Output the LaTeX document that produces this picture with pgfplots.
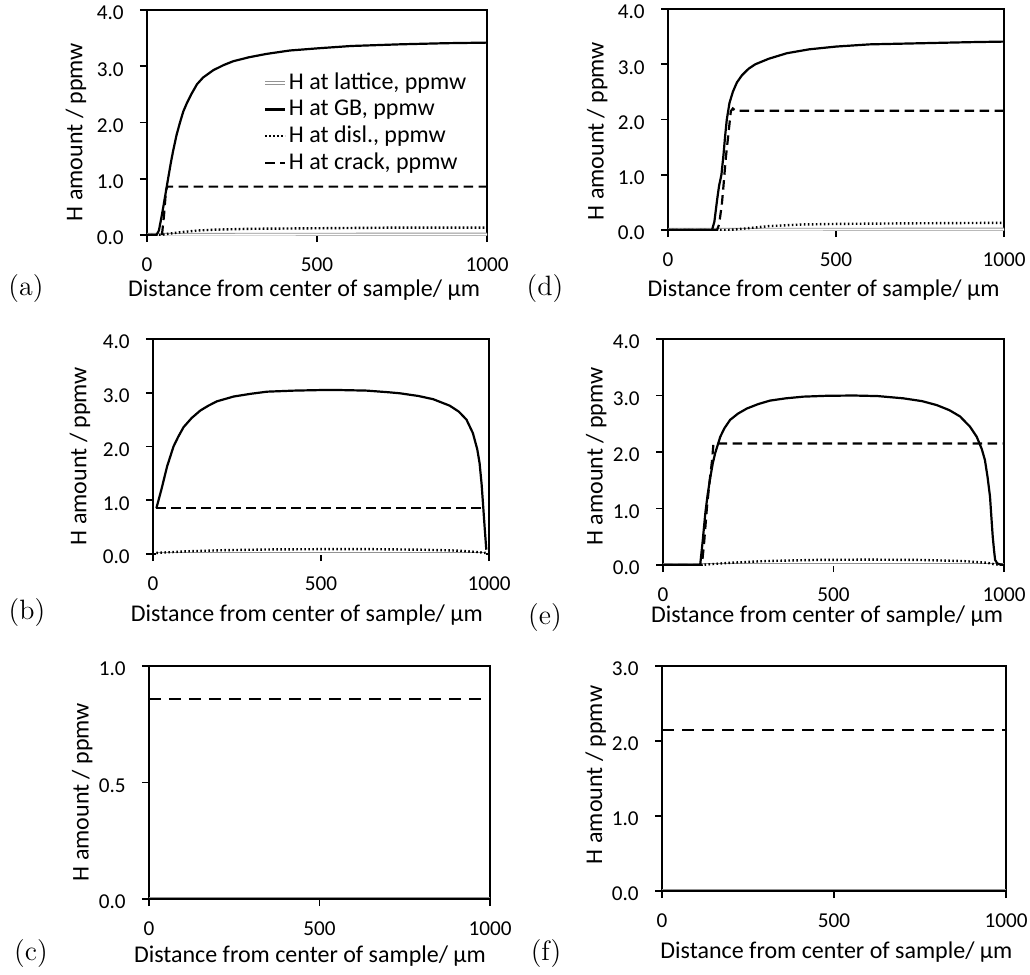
\documentclass[border=0pt]{standalone}
\usepackage{fontspec}
\setsansfont{Carlito}
\usepackage{pgfplots}
\pgfplotsset{compat=1.18}

\pgfplotsset{
  panel/.style={
    scale only axis, anchor=south west,
    xmin=0, xmax=1000, xtick={0,500,1000},
    ymin=0, scaled ticks=false,
    axis line style={line width=0.8pt},
    every tick/.style={black, line width=0.8pt},
    tick align=outside, tickpos=left,
    major tick length=3.5pt,
    /pgf/number format/assume math mode=true,
    tick label style={font=\sffamily\fontsize{10.6}{12}\selectfont},
    yticklabel style={/pgf/number format/fixed, /pgf/number format/fixed zerofill, /pgf/number format/precision=1, xshift=-4.6pt, yshift=-1.5pt},
    xticklabel style={/pgf/number format/1000 sep={}, yshift=-4.3pt},
    xlabel={Distance from center of sample/ μm},
    ylabel={H amount / ppmw},
    every axis x label/.style={anchor=center, font=\sffamily\fontsize{12}{14}\selectfont},
    every axis y label/.style={anchor=center, rotate=90, font=\sffamily\fontsize{12}{14}\selectfont},
  },
  gb/.style={black, line width=1.1pt},
  crack/.style={black, line width=1.1pt, dash pattern=on 4.75pt off 2.75pt},
  disl/.style={black, line width=1.2pt, dash pattern=on 0.8pt off 1.2pt},
  latt/.style={gray!85, line width=0.45pt, double=white, double distance=0.9pt},
}

\begin{document}
\begin{tikzpicture}
\useasboundingbox (0pt,0pt) rectangle (515pt,-487.5pt);

% ---------------- (a) ----------------
\begin{axis}[panel, at={(73.5pt,-117.5pt)}, width=170pt, height=112.5pt,
  ymax=4, ytick={0,1,2,3,4},
  xlabel style={at={(axis description cs:0.462,-0.244)}},
  ylabel style={at={(axis description cs:-0.209,0.458)}},
  legend style={draw=none, fill=none, at={(0.341,0.725)}, anchor=north west,
    inner sep=0pt, row sep=2.6pt, font=\sffamily\fontsize{12}{14}\selectfont,
    nodes={inner xsep=1pt, inner ysep=0.5pt}},
  legend cell align=left,
  legend image code/.code={\draw[#1] (0pt,0pt) -- (10pt,0pt);},
]
\addplot[latt] coordinates {(0,0.005) (1000,0.01)};
\addlegendentry{H at lattice, ppmw}
\addplot[gb] coordinates {(0,0) (28,0) (35,0.08) (42,0.3) (48,0.5) (55,0.75) (62,1.0) (70,1.28) (77,1.5) (87,1.78) (97,2.0) (107,2.2) (117,2.34) (130,2.5) (147,2.68) (165,2.8) (195,2.93) (225,3.02) (254,3.09) (300,3.16) (352,3.22) (420,3.28) (505,3.32) (600,3.36) (745,3.39) (880,3.41) (1000,3.42)};
\addlegendentry{H at GB, ppmw}
\addplot[disl] coordinates {(0,0) (40,0) (60,0.02) (100,0.05) (150,0.08) (200,0.095) (300,0.11) (500,0.12) (700,0.13) (1000,0.13)};
\addlegendentry{H at disl., ppmw}
\addplot[crack] coordinates {(0,0) (44,0) (50,0.35) (56,0.8) (60,0.86) (1000,0.86)};
\addlegendentry{H at crack, ppmw}
\end{axis}

% ---------------- (b) ----------------
\begin{axis}[panel, at={(76.5pt,-277pt)}, width=168pt, height=107.5pt,
  ymax=4, ytick={0,1,2,3,4},
  xlabel style={at={(axis description cs:0.458,-0.284)}},
  ylabel style={at={(axis description cs:-0.217,0.456)}},
]
\addplot[latt] coordinates {(10,0.005) (990,0.005)};
\addplot[gb] coordinates {(10,0.85) (25,1.2) (42,1.63) (61,2.0) (75,2.18) (91,2.36) (115,2.53) (141,2.67) (165,2.76) (190,2.84) (240,2.93) (290,2.98) (339,3.02) (420,3.04) (497,3.05) (560,3.05) (636,3.04) (700,3.01) (735,2.99) (790,2.94) (834,2.88) (883,2.76) (910,2.65) (933,2.5) (952,2.25) (965,1.95) (972,1.69) (978,1.3) (982,0.95) (987,0.5) (992,0.08)};
\addplot[disl] coordinates {(10,0.02) (100,0.05) (200,0.07) (350,0.085) (500,0.09) (650,0.09) (800,0.08) (900,0.065) (960,0.04) (990,0.02)};
\addplot[crack] coordinates {(10,0.86) (980,0.86)};
\end{axis}

% ---------------- (c) ----------------
\begin{axis}[panel, at={(74.5pt,-449.5pt)}, width=170.5pt, height=116.5pt,
  ymax=1, ytick={0,0.5,1},
  xlabel style={at={(axis description cs:0.472,-0.245)}},
  ylabel style={at={(axis description cs:-0.196,0.459)}},
]
\addplot[latt] coordinates {(0,0.002) (1000,0.002)};
\addplot[gb] coordinates {(0,0) (1000,0)};
\addplot[black, line width=1.1pt, dash pattern=on 6pt off 4pt] coordinates {(0,0.86) (1000,0.86)};
\end{axis}

% ---------------- (d) ----------------
\begin{axis}[panel, at={(334pt,-115pt)}, width=168pt, height=110.5pt,
  ymax=4, ytick={0,1,2,3,4},
  xlabel style={at={(axis description cs:0.463,-0.271)}},
  ylabel style={at={(axis description cs:-0.211,0.448)}},
]
\addplot[latt] coordinates {(0,0.005) (1000,0.01)};
\addplot[gb] coordinates {(0,0) (131,0) (138,0.15) (146,0.54) (152,0.8) (159,1.0) (165,1.35) (170,1.7) (175,2.0) (183,2.3) (193,2.5) (205,2.67) (220,2.8) (240,2.92) (260,3.0) (300,3.1) (354,3.2) (420,3.27) (500,3.32) (600,3.36) (750,3.38) (900,3.40) (1000,3.41)};
\addplot[disl] coordinates {(0,0) (180,0) (200,0.01) (250,0.04) (300,0.07) (400,0.1) (500,0.11) (700,0.12) (1000,0.13)};
\addplot[crack] coordinates {(0,0) (146,0) (152,0.1) (160,0.45) (165,0.79) (172,1.3) (180,1.75) (187,2.15) (193,2.2) (200,2.16) (1000,2.16)};
\end{axis}

% ---------------- (e) ----------------
\begin{axis}[panel, at={(331.5pt,-282.5pt)}, width=170.5pt, height=113pt,
  ymax=4, ytick={0,1,2,3,4},
  xlabel style={at={(axis description cs:0.481,-0.226)}},
  ylabel style={at={(axis description cs:-0.196,0.480)}},
]
\addplot[latt] coordinates {(0,0.005) (1000,0.005)};
\addplot[gb] coordinates {(0,0) (109,0) (116,0.4) (124,0.91) (131,1.25) (139,1.56) (146,1.8) (153,1.98) (168,2.27) (180,2.42) (197,2.57) (220,2.68) (246,2.77) (280,2.85) (314,2.91) (360,2.95) (412,2.98) (480,2.995) (559,3.0) (630,2.99) (705,2.95) (760,2.9) (803,2.83) (840,2.74) (871,2.63) (900,2.45) (920,2.27) (935,2.05) (944,1.86) (952,1.55) (959,1.21) (963,0.85) (967,0.5) (971,0.25) (974,0.09) (980,0.03) (988,0.01) (1000,0)};
\addplot[disl] coordinates {(110,0) (130,0.01) (200,0.04) (300,0.07) (450,0.09) (600,0.095) (750,0.09) (880,0.07) (950,0.04) (975,0.01) (1000,0)};
\addplot[crack] coordinates {(0,0) (114,0) (120,0.35) (129,1.03) (137,1.5) (144,1.86) (148,2.15) (1000,2.15)};
\end{axis}

% ---------------- (f) ----------------
\begin{axis}[panel, at={(331pt,-445.5pt)}, width=172pt, height=112.5pt,
  ymax=3, ytick={0,1,2,3},
  xlabel style={at={(axis description cs:0.507,-0.271)}},
  ylabel style={at={(axis description cs:-0.193,0.516)}},
]
\addplot[latt] coordinates {(0,0.005) (1000,0.005)};
\addplot[gb] coordinates {(0,0) (1000,0)};
\addplot[black, line width=1.1pt, dash pattern=on 6pt off 4pt] coordinates {(0,2.15) (1000,2.15)};
\end{axis}

% panel labels
\begin{scope}[every node/.style={font=\rmfamily\fontsize{14}{16}\selectfont}]
\node at (13pt,-144.5pt) {(a)};
\node at (13.5pt,-306.5pt) {(b)};
\node at (15.5pt,-477pt) {(c)};
\node at (272.5pt,-144.5pt) {(d)};
\node at (272.5pt,-309pt) {(e)};
\node at (273pt,-477pt) {(f)};
\end{scope}
\end{tikzpicture}
\end{document}
